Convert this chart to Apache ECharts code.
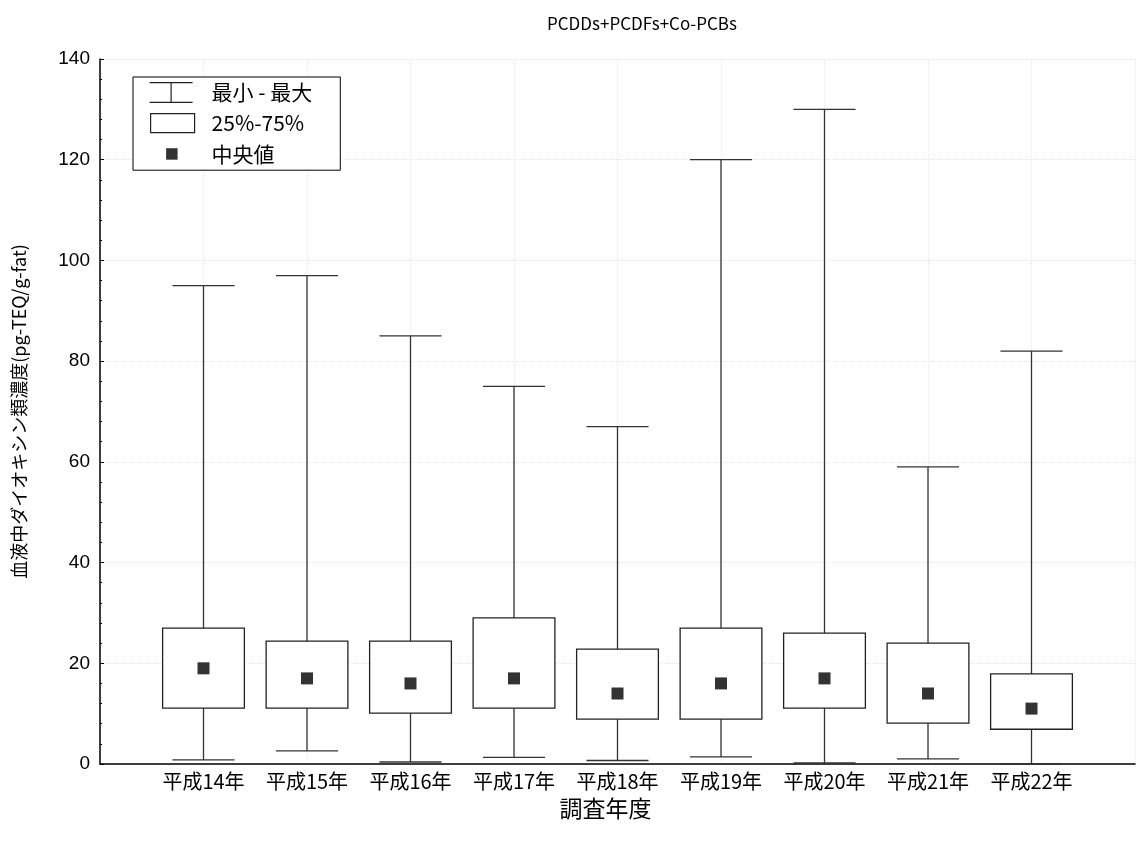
<!DOCTYPE html>
<html>
<head>
<meta charset="utf-8">
<script src="https://cdn.jsdelivr.net/npm/echarts@6/dist/echarts.min.js"></script>
<style>
html,body{margin:0;padding:0;background:#fff;}
#chart{width:1138px;height:841px;}
</style>
</head>
<body>
<div id="chart"></div>
<script>
// ---- data ----
const categories = ['平成14年','平成15年','平成16年','平成17年','平成18年','平成19年','平成20年','平成21年','平成22年'];
const minVals    = [0.8, 2.6, 0.4, 1.3, 0.7, 1.4, 0.2, 1.0, 0.0];
const q1Vals     = [11.1, 11.1, 10.1, 11.1, 8.9, 8.9, 11.1, 8.1, 6.9];
const medianVals = [19, 17, 16, 17, 14, 16, 17, 14, 11];
const q3Vals     = [27, 24.4, 24.4, 29, 22.8, 27, 26, 24, 17.9];
const maxVals    = [95, 97, 85, 75, 67, 120, 130, 59, 82];
const yTicks     = [0, 20, 40, 60, 80, 100, 120, 140];

const CAP_W = 0.6;   // whisker cap width in x-units
const BOX_W = 0.79;  // box width in x-units
const JP = "'Noto Sans CJK JP',sans-serif";

const whiskerData = categories.map((c, i) => [i + 1, minVals[i], maxVals[i]]);
const boxData = categories.map((c, i) => [i + 1, q1Vals[i], q3Vals[i]]);
const medianData = categories.map((c, i) => [i + 1, medianVals[i]]);

function renderWhisker(params, api) {
  const x = api.value(0);
  const lo = api.coord([x, api.value(1)]);
  const hi = api.coord([x, api.value(2)]);
  const half = api.size([CAP_W, 0])[0] / 2;
  const st = { stroke: '#333', lineWidth: 1.3 };
  return { type: 'group', children: [
    { type: 'line', shape: { x1: lo[0], y1: lo[1], x2: hi[0], y2: hi[1] }, style: st },
    { type: 'line', shape: { x1: lo[0] - half, y1: lo[1], x2: lo[0] + half, y2: lo[1] }, style: st },
    { type: 'line', shape: { x1: hi[0] - half, y1: hi[1], x2: hi[0] + half, y2: hi[1] }, style: st }
  ]};
}
function renderBox(params, api) {
  const x = api.value(0);
  const lo = api.coord([x, api.value(1)]);
  const hi = api.coord([x, api.value(2)]);
  const w = api.size([BOX_W, 0])[0];
  return { type: 'rect', shape: { x: lo[0] - w / 2, y: hi[1], width: w, height: lo[1] - hi[1] },
    style: { fill: '#fff', stroke: '#222', lineWidth: 1.3 } };
}

const chart = echarts.init(document.getElementById('chart'), null, { renderer: 'canvas' });
chart.setOption({
  animation: false,
  backgroundColor: '#fff',
  title: {
    text: 'PCDDs+PCDFs+Co-PCBs',
    left: 637, top: 10, textAlign: 'center',
    textStyle: { fontFamily: JP, fontSize: 17, fontWeight: 'normal', color: '#000' }
  },
  legend: {
    orient: 'vertical',
    left: 133, top: 77,
    padding: [5, 28, 6, 16],
    itemWidth: 57, itemHeight: 21, itemGap: 9,
    borderColor: '#000', borderWidth: 1, borderRadius: 0,
    backgroundColor: '#fff',
    selectedMode: false,
    textStyle: { fontFamily: JP, fontSize: 21, color: '#000' },
    data: [
      { name: '最小 - 最大', icon: 'path://M0,0M57,21M0,0H43V1.2H22.1V19.8H43V21H0V19.8H20.9V1.2H0Z',
        itemStyle: { color: '#222', borderWidth: 0 } },
      { name: '25%-75%', icon: 'path://M0,0M57,21M1,1H45V20H1Z',
        itemStyle: { color: '#fff', borderColor: '#222', borderWidth: 1.2 } },
      { name: '中央値', icon: 'path://M0,0M57,21M16.5,5H28V16.5H16.5Z',
        itemStyle: { color: '#000', borderWidth: 0 } }
    ]
  },
  grid: { left: 100, right: 1, top: 59, bottom: 77 },
  xAxis: {
    type: 'value', min: 0, max: 10, interval: 1,
    name: '調査年度', nameLocation: 'middle', nameGap: 33, nameMoveOverlap: false,
    nameTextStyle: { fontFamily: JP, fontSize: 23, color: '#000', padding: [0, 24, 0, 0] },
    axisLine: { show: true, lineStyle: { color: '#000', width: 1.5 } },
    axisTick: { show: false },
    axisLabel: { fontFamily: JP, fontSize: 20, color: '#000', margin: 7,
      formatter: v => categories[v - 1] || '' },
    splitLine: { show: true, lineStyle: { color: '#e6e6e6', type: 'dotted', width: 1 } }
  },
  yAxis: {
    type: 'value', min: yTicks[0], max: yTicks[yTicks.length - 1], interval: 20,
    name: '血液中ダイオキシン類濃度(pg-TEQ/g-fat)', nameLocation: 'middle', nameGap: 72,
    nameMoveOverlap: false,
    nameTextStyle: { fontFamily: JP, fontSize: 18, color: '#000' },
    axisLine: { show: true, lineStyle: { color: '#000', width: 1.5 } },
    axisTick: { show: true, inside: true, length: 4, lineStyle: { color: '#000' } },
    minorTick: { show: true, splitNumber: 5, length: 2, lineStyle: { color: '#000' } },
    axisLabel: { fontFamily: "'Liberation Sans',Arial,sans-serif", fontSize: 19, color: '#000', margin: 10 },
    splitLine: { show: true, lineStyle: { color: '#e6e6e6', type: 'dotted', width: 1 } }
  },
  series: [
    { name: '最小 - 最大', type: 'custom', renderItem: renderWhisker, data: whiskerData,
      encode: { x: 0, y: [1, 2] }, z: 2, itemStyle: { color: '#222' } },
    { name: '25%-75%', type: 'custom', renderItem: renderBox, data: boxData,
      encode: { x: 0, y: [1, 2] }, z: 3, itemStyle: { color: '#fff', borderColor: '#222' } },
    { name: '中央値', type: 'scatter', data: medianData, symbol: 'rect', symbolSize: 12,
      itemStyle: { color: '#000' }, z: 4 }
  ]
});
</script>
</body>
</html>
